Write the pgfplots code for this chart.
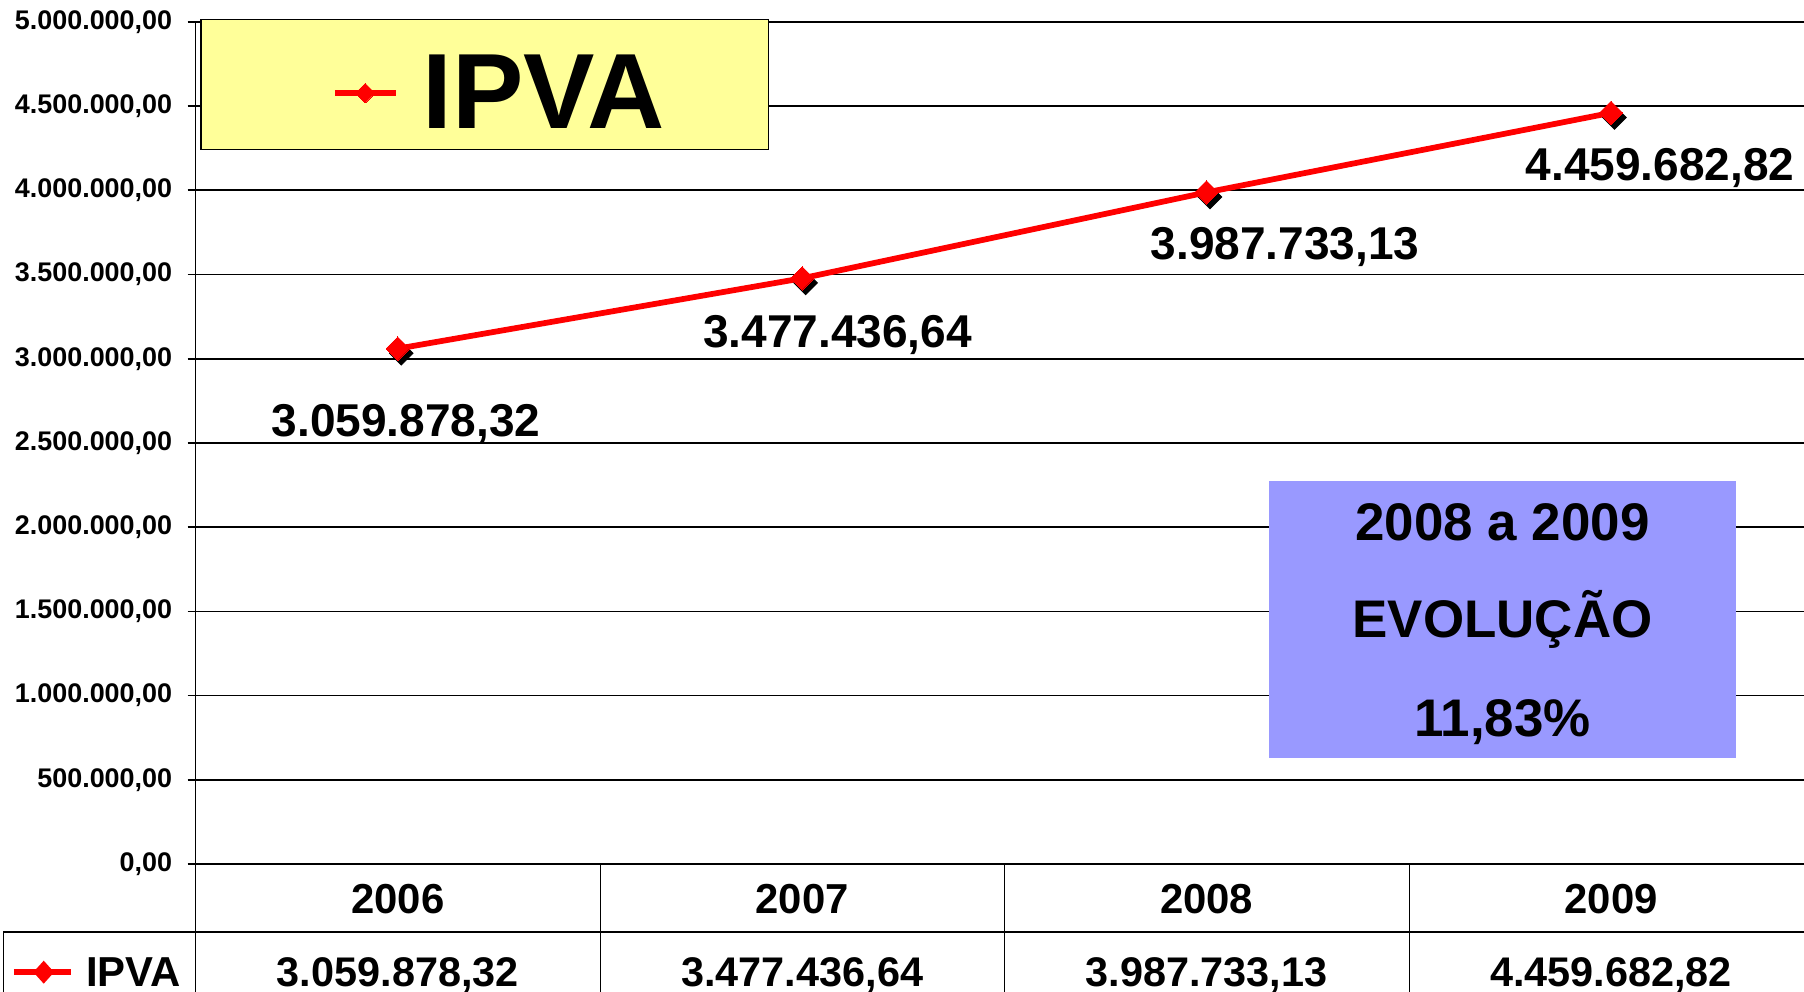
\documentclass[border=0pt]{standalone}
\usepackage{pgfplots}
\pgfplotsset{compat=1.18}
\usepackage{fontspec}
\setmainfont{Liberation Sans}
\definecolor{legyellow}{HTML}{FFFF99}
\definecolor{boxpurple}{HTML}{9999FF}
\begin{document}
\begin{tikzpicture}
\useasboundingbox (0,0) rectangle (784pt,431pt);
\clip (0,0) rectangle (784pt,431pt);
\begin{axis}[
  at={(85pt,55.5pt)}, anchor=south west,
  scale only axis, width=703pt, height=366pt,
  xmin=-0.5, xmax=3.5, ymin=0, ymax=5000000,
  xtick=\empty,
  ytick={0,500000,1000000,1500000,2000000,2500000,3000000,3500000,4000000,4500000,5000000},
  yticklabels={{0,00},{500.000,00},{1.000.000,00},{1.500.000,00},{2.000.000,00},{2.500.000,00},{3.000.000,00},{3.500.000,00},{4.000.000,00},{4.500.000,00},{5.000.000,00}},
  yticklabel style={font=\fontsize{11.7}{12}\selectfont\bfseries, inner xsep=0pt, inner ysep=0pt, xshift=-6.5pt},
  ymajorgrids, grid style={black, line width=0.75pt},
  axis x line*=bottom, axis y line*=left,
  axis line style={black, line width=0.75pt, -},
  tick align=outside, major tick length=3.5pt,
  tick style={black, line width=0.75pt},
  clip=false,
  legend style={at={(rel axis cs:0.1885,0.9155)}, anchor=center, draw=none, fill=none,
    column sep=8.5pt, font=\fontsize{46.5}{47}\selectfont\bfseries},
  legend image code/.code={\draw[#1, mark size=3pt, mark repeat=2, mark phase=2] plot coordinates {(0pt,0pt) (13.25pt,0pt) (26.5pt,0pt)};},
]
\draw[black, line width=0.75pt, fill=legyellow] (rel axis cs:0.00356,1.0027) rectangle (rel axis cs:0.3542,0.8484);
\fill[boxpurple] (rel axis cs:0.6636,0.4549) rectangle (rel axis cs:0.9523,0.1257);
\addplot[forget plot, only marks, mark=square*, mark size=3.6pt,
  mark options={xshift=1.5pt, yshift=-2pt, rotate=45, fill=black, draw=black}]
  coordinates {(0,3059878.32) (1,3477436.64) (2,3987733.13) (3,4459682.82)};
\addplot[red, line width=2.5pt, mark=square*, mark size=3.6pt,
  mark options={rotate=45, fill=red, draw=red, line width=0pt}]
  coordinates {(0,3059878.32) (1,3477436.64) (2,3987733.13) (3,4459682.82)};
\addlegendentry{IPVA}
\end{axis}
\begin{scope}[x=0.5pt, y=-0.5pt, shift={(0pt,431pt)}]
  % data labels
  \begin{scope}[every node/.style={font=\fontsize{20}{21}\selectfont\bfseries, text height=0.716em, text depth=0pt, inner sep=0pt}]
    \node at (353,372) {3.059.878,32};
    \node at (728,295) {3.477.436,64};
    \node at (1117,218) {3.987.733,13};
    \node at (1443,150) {4.459.682,82};
  \end{scope}
  % purple box text
  \begin{scope}[every node/.style={font=\fontsize{23}{24}\selectfont\bfseries, text height=0.716em, text depth=0pt, inner sep=0pt}]
    \node at (1306,463) {2008 a 2009};
    \node at (1306,547) {EVOLUÇÃO};
    \node at (1306,633) {11,83\%};
  \end{scope}
  % data table
  \draw[black, line width=0.75pt] (170,751)--(170,880) (522,751)--(522,880) (873,751)--(873,880) (1225,751)--(1225,880) (1576,751)--(1576,880)
    (3,810)--(1576,810) (3,810)--(3,880);
  \begin{scope}[every node/.style={font=\fontsize{18.2}{19}\selectfont\bfseries, text height=0.716em, text depth=0pt, inner sep=0pt}]
    \node at (345.75,787) {2006};
    \node at (697.25,787) {2007};
    \node at (1048.75,787) {2008};
    \node at (1400.25,787) {2009};
    \node at (116,850) {IPVA};
  \end{scope}
  \begin{scope}[every node/.style={font=\fontsize{18}{19}\selectfont\bfseries, text height=0.716em, text depth=0pt, inner sep=0pt}]
    \node at (345.75,850) {3.059.878,32};
    \node at (697.25,850) {3.477.436,64};
    \node at (1048.75,850) {3.987.733,13};
    \node at (1400.25,850) {4.459.682,82};
  \end{scope}
  \draw[red, line width=2.5pt] (12,845)--(62,845);
  \fill[red] (38,835)--(47,845)--(38,855)--(29,845)--cycle;
\end{scope}
\end{tikzpicture}
\end{document}
